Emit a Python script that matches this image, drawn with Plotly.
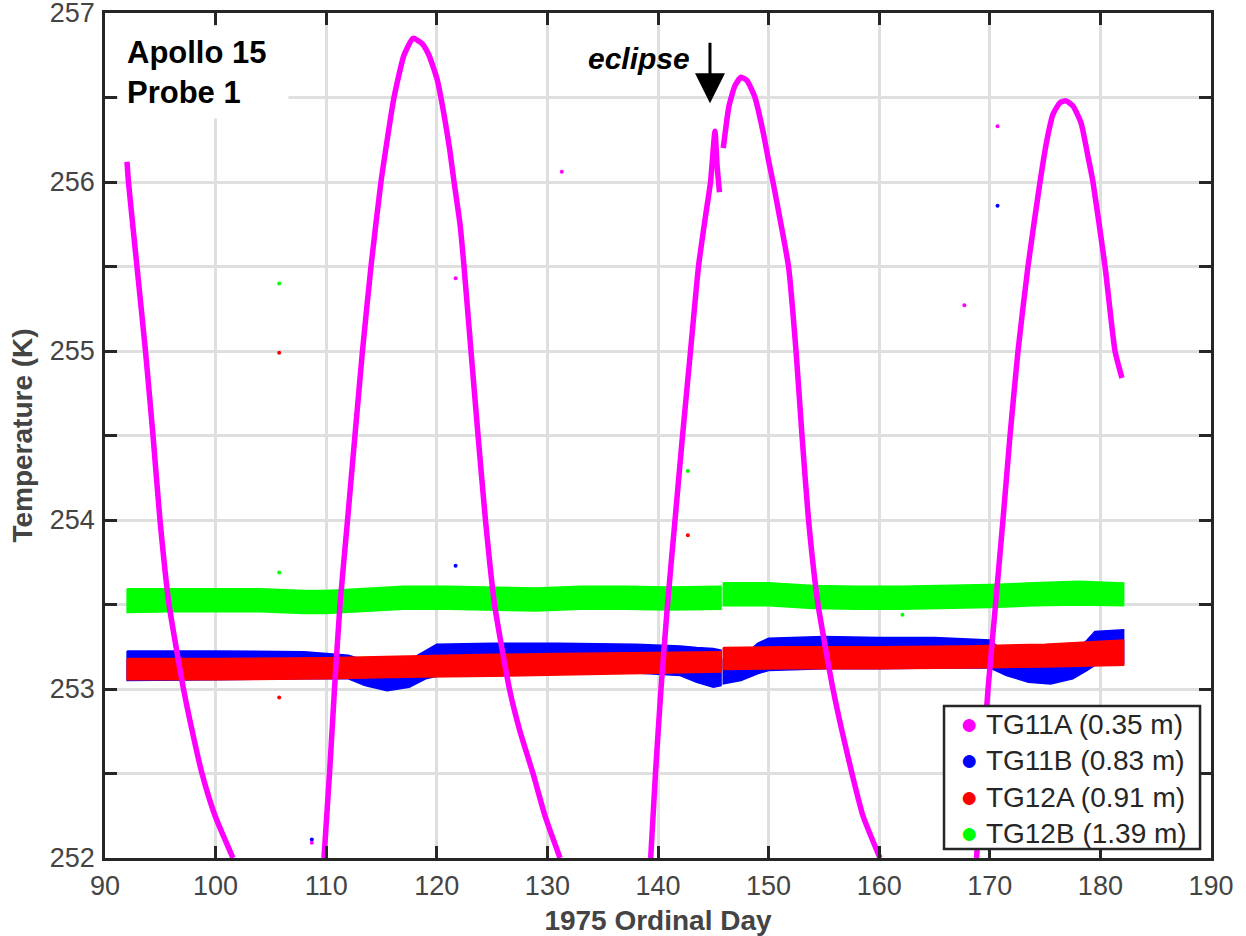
import plotly.graph_objects as go

# ---------------- data ----------------
# TG11A (0.35 m); None = break (curve leaves axis / data gap)
tg11a_day = [91.99, 92.12, 92.89, 93.66, 94.34, 94.97, 95.79, 97.10, 97.89, 98.77, 99.95, 101.57, None,
             109.80, 110.30, 110.75, 111.25, 111.93, 112.60, 113.28, 114.05, 114.95, 116.13, 117.03,
             117.85, 118.66, 119.29, 120.06, 120.65, 121.15, 121.56, 122.10, 122.46, 123.09, 123.73,
             124.40, 125.22, 126.57, 127.52, 128.70, 129.78, 131.14, None,
             139.34, 139.77, 140.27, 140.86, 141.54, 142.22, 142.94, 143.66, 144.30, 144.75, 145.15,
             145.34, 145.56, None,
             145.90, 146.42, 146.96, 147.50, 148.05, 148.77, 149.49, 150.08, 150.40, 151.12, 151.80,
             152.48, 153.02, 153.61, 154.47, 155.82, 156.64, 157.54, 158.53, 160.07, None,
             168.80, 169.29, 169.84, 170.52, 171.19, 171.83, 172.55, 173.45, 174.54, 175.17, 175.71,
             176.35, 176.89, 177.52, 178.25, 178.88, 179.33, 180.42, 181.32, 181.95]
tg11a_temp = [256.12, 256.00, 255.50, 255.00, 254.50, 254.00, 253.50, 253.00, 252.75, 252.50, 252.25, 252.00, None,
              252.00, 252.50, 253.00, 253.50, 254.00, 254.50, 255.00, 255.50, 256.00, 256.50, 256.75,
              256.85, 256.82, 256.75, 256.60, 256.40, 256.20, 256.00, 255.75, 255.50, 255.00, 254.50,
              254.00, 253.50, 253.00, 252.75, 252.50, 252.25, 252.00, None,
              252.00, 252.50, 253.00, 253.50, 254.00, 254.50, 255.00, 255.50, 255.80, 256.00, 256.30,
              256.10, 255.94, None,
              256.20, 256.45, 256.57, 256.62, 256.60, 256.50, 256.30, 256.10, 256.00, 255.75, 255.50,
              255.00, 254.50, 254.00, 253.50, 253.00, 252.75, 252.50, 252.25, 252.00, None,
              252.00, 252.50, 253.00, 253.50, 254.00, 254.50, 255.00, 255.50, 256.00, 256.25, 256.40,
              256.47, 256.48, 256.45, 256.35, 256.15, 256.00, 255.50, 255.00, 254.84]

# TG11B (0.83 m): lower / upper edge of the dense blue band
tg11b_day = [92.0, 100.0, 108.0, 112.0, 113.5, 115.5, 117.5, 119.0, 120.0, 125.0, 131.0, 138.0, 142.0,
             143.5, 145.0, 145.7, None, 145.9, 147.5, 149.0, 150.0, 155.0, 160.0, 165.0, 170.0, 171.5,
             173.5, 175.5, 177.5, 178.8, 179.5, 182.1]
tg11b_low = [253.050, 253.055, 253.060, 253.060, 253.020, 252.990, 253.010, 253.060, 253.075, 253.080,
             253.090, 253.095, 253.080, 253.040, 253.010, 253.020, None, 253.030, 253.050, 253.090,
             253.110, 253.120, 253.120, 253.125, 253.125, 253.080, 253.040, 253.030, 253.060, 253.110,
             253.140, 253.150]
tg11b_high = [253.225, 253.225, 253.220, 253.200, 253.170, 253.160, 253.170, 253.230, 253.265, 253.270,
              253.270, 253.265, 253.255, 253.245, 253.240, 253.230, None, 253.180, 253.180, 253.270,
              253.300, 253.310, 253.305, 253.305, 253.290, 253.210, 253.190, 253.190, 253.210, 253.290,
              253.340, 253.350]

# TG12A (0.91 m): lower / upper edge of the red band
tg12a_day = [92.0, 100.0, 110.0, 117.0, 125.0, 131.0, 138.0, 145.7, None, 145.9, 152.0, 160.0, 168.0,
             175.0, 182.1]
tg12a_low = [253.055, 253.055, 253.060, 253.070, 253.075, 253.085, 253.090, 253.100, None, 253.115,
             253.120, 253.120, 253.125, 253.130, 253.140]
tg12a_high = [253.180, 253.180, 253.185, 253.195, 253.205, 253.210, 253.215, 253.220, None, 253.245,
              253.250, 253.250, 253.255, 253.265, 253.290]

# TG12B (1.39 m): lower / upper edge of the green band
tg12b_day = [92.0, 96.0, 100.0, 104.0, 108.0, 110.0, 113.0, 117.0, 121.0, 125.0, 129.0, 133.0, 137.0,
             141.0, 145.7, None, 145.9, 150.0, 154.0, 158.0, 162.0, 166.0, 170.0, 174.0, 178.0, 182.1]
tg12b_low = [253.452, 253.457, 253.457, 253.457, 253.447, 253.447, 253.457, 253.472, 253.472, 253.467,
             253.462, 253.472, 253.472, 253.467, 253.472, None, 253.492, 253.492, 253.477, 253.472,
             253.472, 253.477, 253.482, 253.492, 253.497, 253.492]
tg12b_high = [253.593, 253.593, 253.593, 253.593, 253.583, 253.583, 253.593, 253.608, 253.608, 253.603,
              253.598, 253.608, 253.608, 253.603, 253.608, None, 253.628, 253.628, 253.613, 253.608,
              253.608, 253.613, 253.618, 253.628, 253.638, 253.628]

# isolated stray readings
stray_tg11a_day = [108.7, 121.7, 131.3, 167.7, 170.7]
stray_tg11a_temp = [252.09, 255.43, 256.06, 255.27, 256.33]
stray_tg11b_day = [108.7, 121.7, 170.7]
stray_tg11b_temp = [252.11, 253.73, 255.86]
stray_tg12a_day = [105.75, 105.75, 142.7]
stray_tg12a_temp = [254.99, 252.95, 253.91]
stray_tg12b_day = [105.75, 105.75, 142.7, 162.1]
stray_tg12b_temp = [255.40, 253.69, 254.29, 253.44]

series_names = ["TG11A (0.35 m)", "TG11B (0.83 m)", "TG12A (0.91 m)", "TG12B (1.39 m)"]
series_colors = ["#ff00ff", "#0000ff", "#ff0000", "#00ff00"]

x_ticks = [90, 100, 110, 120, 130, 140, 150, 160, 170, 180, 190]
y_ticks = [252, 252.5, 253, 253.5, 254, 254.5, 255, 255.5, 256, 256.5, 257]
y_ticktext = ["252", "", "253", "", "254", "", "255", "", "256", "", "257"]

# ---------------- figure ----------------
FONT = "Liberation Sans, Arial, Helvetica, sans-serif"
AX = "#262626"
LBL = "#444444"
fig = go.Figure()


def band_polygon(days, low, high):
    """split on None and return polygon x/y (joined by None) for fill='toself'"""
    xs, ys = [], []
    seg_d, seg_l, seg_h = [], [], []
    for d, lo, hi in list(zip(days, low, high)) + [(None, None, None)]:
        if d is None:
            if seg_d:
                if xs:
                    xs.append(None)
                    ys.append(None)
                xs += seg_d + seg_d[::-1] + [seg_d[0]]
                ys += seg_h + seg_l[::-1] + [seg_h[0]]
            seg_d, seg_l, seg_h = [], [], []
        else:
            seg_d.append(d)
            seg_l.append(lo)
            seg_h.append(hi)
    return xs, ys


for days, low, high, color, name in [
    (tg11b_day, tg11b_low, tg11b_high, series_colors[1], series_names[1]),
    (tg12a_day, tg12a_low, tg12a_high, series_colors[2], series_names[2]),
    (tg12b_day, tg12b_low, tg12b_high, series_colors[3], series_names[3]),
]:
    px_, py_ = band_polygon(days, low, high)
    fig.add_trace(go.Scatter(x=px_, y=py_, mode="lines", fill="toself", fillcolor=color, name=name,
                             line=dict(color=color, width=1.5), showlegend=False, hoverinfo="skip"))

for sx, sy, color in [
    (stray_tg11b_day, stray_tg11b_temp, series_colors[1]),
    (stray_tg12a_day, stray_tg12a_temp, series_colors[2]),
    (stray_tg12b_day, stray_tg12b_temp, series_colors[3]),
    (stray_tg11a_day, stray_tg11a_temp, series_colors[0]),
]:
    fig.add_trace(go.Scatter(x=sx, y=sy, mode="markers", marker=dict(color=color, size=4),
                             showlegend=False, hoverinfo="skip"))

fig.add_trace(go.Scatter(x=tg11a_day, y=tg11a_temp, mode="lines", connectgaps=False, name=series_names[0],
                         line=dict(color=series_colors[0], width=5.5, shape="spline", smoothing=0.5),
                         showlegend=False))

axis_common = dict(showline=True, linewidth=2.5, linecolor=AX, mirror="ticks",
                   ticks="inside", ticklen=12, tickwidth=2.5, tickcolor=AX,
                   showgrid=True, gridcolor="#dfdfdf", gridwidth=2.5, zeroline=False,
                   automargin=False, ticklabeloverflow="allow",
                   tickfont=dict(family=FONT, size=27, color=LBL))

fig.update_xaxes(range=[90, 190], tickvals=x_ticks, ticktext=[str(t) for t in x_ticks],
                 ticklabelstandoff=2,
                 title=dict(text="<b>1975 Ordinal Day</b>", standoff=15,
                            font=dict(family=FONT, size=28, color=LBL)),
                 **axis_common)
fig.update_yaxes(range=[252, 257], tickvals=y_ticks, ticktext=y_ticktext, ticklabelstandoff=2,
                 title=dict(text="<b>Temperature (K)</b>", standoff=9,
                            font=dict(family=FONT, size=28, color=LBL)),
                 **axis_common)

fig.add_annotation(xref="paper", yref="paper", x=0.0118, y=0.985, xanchor="left", yanchor="top",
                   text="<b>Apollo 15<br>Probe 1</b>", align="left", showarrow=False,
                   bgcolor="white", borderpad=8, width=153,
                   font=dict(family=FONT, size=31, color="black"))

fig.add_annotation(x=144.70, y=256.466, xref="x", yref="y", text="", showarrow=True,
                   ax=0, ay=-62, arrowhead=2, arrowsize=2.0, arrowwidth=3, arrowcolor="black")
fig.add_annotation(x=143.07, y=256.73, xref="x", yref="y", text="<b><i>eclipse</i></b>",
                   showarrow=False, xanchor="right", yanchor="middle",
                   font=dict(family=FONT, size=30, color="black"))

# legend box (frame + entries with coloured dot symbols)
fig.add_shape(type="rect", xref="paper", yref="paper", x0=0.7586, x1=0.9901, y0=0.0107, y1=0.1799,
              line=dict(color=AX, width=2.5), fillcolor="white", layer="above")
legend_lines = [
    f"<span style='color:{c};font-size:30px'>\u25CF</span>\u00a0{n}"
    for n, c in zip(series_names, series_colors)
]
fig.add_annotation(xref="paper", yref="paper", x=0.7712, y=0.0950, xanchor="left", yanchor="middle",
                   text="<br>".join(legend_lines), align="left", showarrow=False,
                   font=dict(family=FONT, size=28, color=AX))

fig.update_layout(
    width=1246, height=936,
    margin=dict(l=105, r=35, t=13, b=78, autoexpand=False),
    paper_bgcolor="white", plot_bgcolor="white",
    font=dict(family=FONT, color=AX),
    showlegend=False,
)

# place the figure flush with the page corner (no default 8px body margin), no modebar
fig.write_html("out.html", config={"displayModeBar": False},
               post_script="document.body.style.margin='0px';")
